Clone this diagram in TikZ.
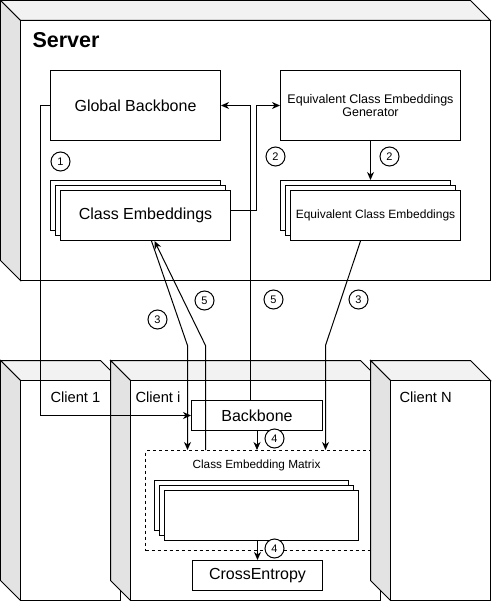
\documentclass[tikz,border=0pt]{standalone}
\usepackage{fontspec}
\setmainfont{Liberation Sans}
\usetikzlibrary{arrows.meta}
\begin{document}
\begin{tikzpicture}
[x=1pt, y=-1pt, line width=1pt,
topface/.style={fill=black!5}, sideface/.style={fill=black!11},
box/.style={draw, fill=white, inner sep=0, font=\fontsize{16}{19}\selectfont},
card/.style={draw, fill=white, inner sep=0, minimum height=50},
num/.style={draw, circle, fill=white, minimum size=19, inner sep=0, font=\fontsize{11}{11}\selectfont},
arr/.style={-{Stealth[length=8pt,width=7pt,inset=2.5pt]}}]
\useasboundingbox (-0.5,-0.5) rectangle (490.5,600.5);
\draw[topface] (0,0) -- (470,0) -- (490,20) -- (20,20) -- cycle;
\draw[sideface] (0,0) -- (20,20) -- (20,280) -- (0,260) -- cycle;
\draw[fill=white] (20,20) rectangle (490,280);
\node[anchor=west, inner sep=0, font=\bfseries\fontsize{21.5}{24}\selectfont] (srv) at (31.5,40) {Server};
\node[box, minimum width=170, minimum height=70] (gb) at (135,105) {Global Backbone};
\node[box, minimum width=180, minimum height=70, align=center, font=\fontsize{12.5}{13}\selectfont] (gen) at (370,105) {Equivalent Class Embeddings\\Generator};
\node[card, minimum width=170] (ce1) at (135,205) {};
\node[card, minimum width=170] (ce2) at (140,210) {};
\node[card, minimum width=170, font=\fontsize{16}{19}\selectfont] (ce) at (145,215) {Class Embeddings};
\node[card, minimum width=170] (ece1) at (365,205) {};
\node[card, minimum width=170] (ece2) at (370,210) {};
\node[card, minimum width=170, font=\fontsize{12}{14}\selectfont] (ece) at (375,215) {Equivalent Class Embeddings};
\foreach \x/\w/\lx/\id in {0/120/49.5/1, 110/270/134.5/i, 370/120/398.5/N} {
  \draw[topface] (\x,360) -- (\x+\w-20,360) -- (\x+\w,380) -- (\x+20,380) -- cycle;
  \draw[sideface] (\x,360) -- (\x+20,380) -- (\x+20,600) -- (\x,580) -- cycle;
  \draw[fill=white] (\x+20,380) rectangle (\x+\w,600);
  \node[anchor=west, inner sep=0, font=\fontsize{14.7}{17}\selectfont] (client\id) at (\lx,397) {Client \id};
}
\node[box, minimum width=131, minimum height=30] (bb) at (256.5,415) {Backbone};
\node[draw, dashed, dash pattern=on 3pt off 3pt, minimum width=225, minimum height=100] (cem) at (257.5,500) {};
\node[font=\fontsize{11.8}{14}\selectfont] (cemlabel) at (256,465) {Class Embedding Matrix};
\node[card, minimum width=194] (mat1) at (251,505) {};
\node[card, minimum width=194] (mat2) at (256,510) {};
\node[card, minimum width=194] (mat) at (261,515) {};
\node[box, minimum width=130, minimum height=30] (xe) at (257,575) {CrossEntropy};
\coordinate (k3) at (187,345);
\coordinate (k5) at (205,345);
\coordinate (k3r) at (325,345);
\draw[arr] (gb.west) -- ++(-10,0) |- (bb.west);
\draw[arr] ([yshift=5pt]ce.east) -- ++(25,0) |- (gen.west);
\draw[arr] ([xshift=-6.5pt]bb.north) |- (gb.east);
\draw[arr] (gen.south) -- (gen.south |- ece1.north);
\draw[arr] ([xshift=6pt]ce.south) -- (k3) -- (k3 |- cem.north);
\draw[arr] (k5 |- cem.north) -- (k5) -- ([xshift=9pt]ce.south);
\draw[arr] ([xshift=-15pt]ece.south) -- (k3r) -- (k3r |- cem.north);
\draw[arr] (bb.south) -- (bb.south |- cem.north);
\draw[arr] (xe.north |- mat.south) -- (xe.north);
\node[num] (n1) at (60,161) {1};
\node[num] (n2a) at (275,156) {2};
\node[num] (n2b) at (389,156) {2};
\node[num] (n3a) at (157,319) {3};
\node[num] (n5a) at (204,300) {5};
\node[num] (n5b) at (273,299) {5};
\node[num] (n3b) at (358,299) {3};
\node[num] (n4a) at (274,438) {4};
\node[num] (n4b) at (274,548) {4};
\end{tikzpicture}
\end{document}
